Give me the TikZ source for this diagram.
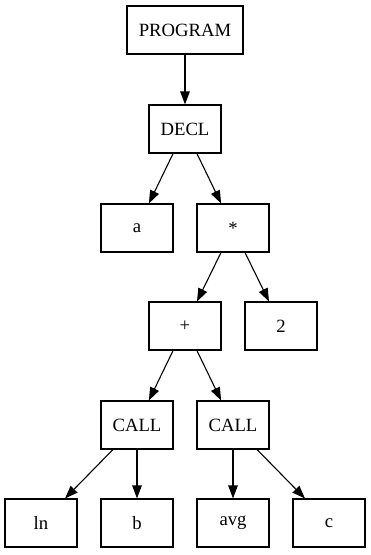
\documentclass[tikz,border=0pt]{standalone}
\usepackage{fontspec}
\setmainfont{Liberation Serif}
\usetikzlibrary{arrows.meta}
\begin{document}
\begin{tikzpicture}[x=1pt,y=1pt,
  box/.style={draw, line width=1.1pt, minimum width=72pt, minimum height=48pt, inner sep=0pt, font=\fontsize{18.7}{20}\selectfont},
  edge/.style={line width=1.1pt, -{Triangle[length=13pt,width=9.5pt]}}]
\useasboundingbox (0,0) rectangle (371,-555);
\node[box, minimum width=116pt] (prog) at (185,-30) {PROGRAM};
\node[box] (decl) at (185,-129) {DECL};
\node[box] (a) at (137,-228) {a};
\node[box] (mul) at (233,-228) {*};
\node[box] (plus) at (185,-326) {+};
\node[box] (two) at (281,-326) {2};
\node[box] (call1) at (137,-425) {CALL};
\node[box] (call2) at (233,-425) {CALL};
\node[box] (ln) at (41,-523) {ln};
\node[box] (b) at (137,-523) {b};
\node[box] (avg) at (233,-523) {avg};
\node[box] (c) at (329,-523) {c};
\draw[edge] (prog) -- (decl);
\draw[edge] (decl) -- (a);
\draw[edge] (decl) -- (mul);
\draw[edge] (mul) -- (plus);
\draw[edge] (mul) -- (two);
\draw[edge] (plus) -- (call1);
\draw[edge] (plus) -- (call2);
\draw[edge] (call1) -- (ln);
\draw[edge] (call1) -- (b);
\draw[edge] (call2) -- (avg);
\draw[edge] (call2) -- (c);
\end{tikzpicture}
\end{document}
